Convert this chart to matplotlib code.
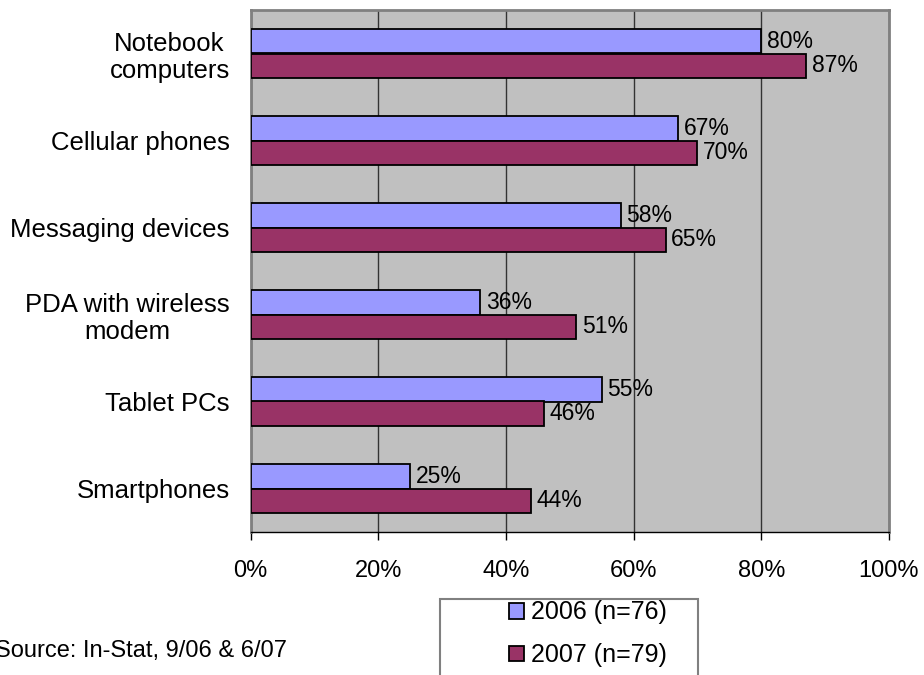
import matplotlib.pyplot as plt
from matplotlib.patches import Rectangle
import numpy as np

plt.rcParams['font.family'] = ['Liberation Sans', 'DejaVu Sans']

# survey data (share of respondents), categories listed top to bottom
categories = ['Notebook\ncomputers', 'Cellular phones', 'Messaging devices',
              'PDA with wireless\nmodem', 'Tablet PCs', 'Smartphones']
y2006 = [80, 67, 58, 36, 55, 25]
y2007 = [87, 70, 65, 51, 46, 44]
series_labels = ['2006 (n=76)', '2007 (n=79)']
xticks = [0, 20, 40, 60, 80, 100]

fig = plt.figure(figsize=(9.24, 6.75), dpi=100)
ax = fig.add_axes([250.5/924, 1 - 532/675, (889 - 250.5)/924, (532 - 10)/675])
ax.set_facecolor('#C0C0C0')

idx = np.arange(len(categories))
h = 0.28
b1 = ax.barh(idx - h/2, y2006, h, color='#9999FF', edgecolor='black', linewidth=1.3,
             label=series_labels[0], zorder=3)
b2 = ax.barh(idx + h/2, y2007, h, color='#993366', edgecolor='black', linewidth=1.3,
             label=series_labels[1], zorder=3)
ax.bar_label(b1, labels=[f'{v}%' for v in y2006], padding=4, fontsize=16.5, zorder=4)
ax.bar_label(b2, labels=[f'{v}%' for v in y2007], padding=4, fontsize=16.5, zorder=4)

ax.set_xlim(0, 100)
ax.set_ylim(len(categories) - 0.5, -0.5)
ax.set_xticks(xticks)
ax.set_xticklabels([f'{t}%' for t in xticks], fontsize=17)
ax.set_yticks(idx)
ax.set_yticklabels(categories, fontsize=18.5, ha='right', multialignment='center',
                   linespacing=1.15)
ax.tick_params(axis='y', length=0, pad=15)
ax.tick_params(axis='x', length=6, width=1, color='black', pad=14, direction='out')
ax.xaxis.grid(True, color='#333333', linewidth=1, zorder=1)
ax.set_axisbelow(True)

for side in ['top', 'right', 'left']:
    ax.spines[side].set_color('#808080')
    ax.spines[side].set_linewidth(2)
ax.spines['bottom'].set_color('black')
ax.spines['bottom'].set_linewidth(1)

# legend box runs off the bottom edge
fig.patches.append(Rectangle((440/924, -0.05), 258/924, 1 - 599/675 + 0.05,
                             transform=fig.transFigure, facecolor='white',
                             edgecolor='#808080', linewidth=1.5))
fig.legend(handles=[b1, b2], labels=series_labels, loc='upper left',
           bbox_to_anchor=(486/924, 1 - 578/675), frameon=False, fontsize=18,
           handlelength=0.6, handleheight=0.6, handletextpad=0.3, labelspacing=0.75)

fig.text(-5/924, 1 - 651/675, 'Source: In-Stat, 9/06 & 6/07', fontsize=17, va='center')

fig.savefig('out.png', dpi=100)
